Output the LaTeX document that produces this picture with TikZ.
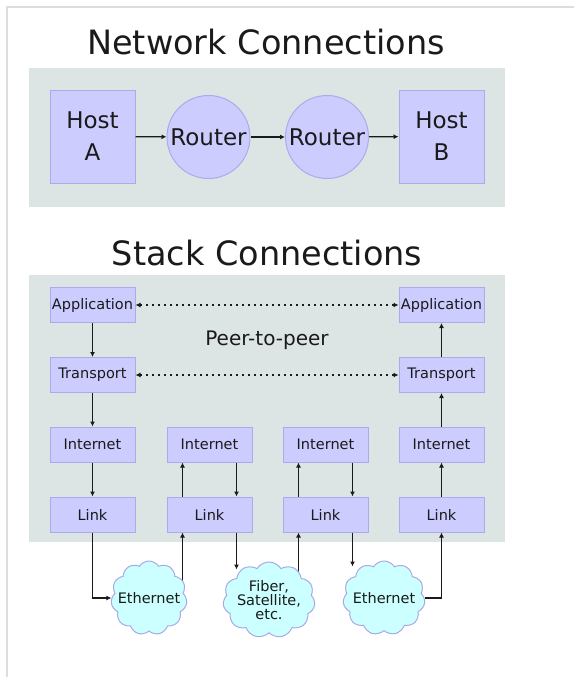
\documentclass[tikz,border=0pt]{standalone}
\usepackage{fontspec}
\setmainfont{DejaVu Sans}
\usetikzlibrary{arrows.meta,positioning,calc,shapes.symbols}
\definecolor{panelgray}{HTML}{DCE4E4}
\definecolor{boxfill}{HTML}{CCCCFF}
\definecolor{boxline}{HTML}{ABABEC}
\definecolor{cloudfill}{HTML}{CCFFFF}
\definecolor{cloudline}{HTML}{A9A9E6}
\definecolor{ink}{HTML}{1A1A1A}
\definecolor{framegray}{HTML}{DDDDDD}
\pgfdeclarelayer{back}
\pgfdeclarelayer{mid}
\pgfsetlayers{back,mid,main}
\tikzset{
  panel/.style={fill=panelgray,draw=none},
  hostbox/.style={draw=boxline,fill=boxfill,line width=1pt,
                  minimum width=85pt,minimum height=93pt,inner sep=0pt,
                  align=center,text=ink,font=\fontsize{23}{32}\selectfont},
  routernode/.style={circle,draw=boxline,fill=boxfill,line width=1pt,
                     minimum size=83pt,inner sep=0pt,text=ink,
                     font=\fontsize{23}{28}\selectfont},
  layerbox/.style={draw=boxline,fill=boxfill,line width=1pt,
                   minimum width=85pt,minimum height=35pt,inner sep=0pt,
                   text=ink,font=\fontsize{14.5}{17}\selectfont},
  netcloud/.style={cloud,cloud puffs=11,cloud puff arc=115,cloud ignores aspect,
                   draw=cloudline,fill=cloudfill,line width=1pt,inner sep=-10pt,
                   align=center,text=ink,font=\fontsize{14.5}{14}\selectfont},
  titletext/.style={anchor=base,text=ink,font=\fontsize{33.5}{40}\selectfont},
  linkarr/.style={-{Latex[length=5pt,width=5pt]},line width=1.3pt,color=ink},
  peerarr/.style={{Latex[length=5pt,width=5pt]}-{Latex[length=5pt,width=5pt]},
                  line width=1.3pt,dash pattern=on 1.5pt off 4.5pt,color=ink}
}

\begin{document}
\begin{tikzpicture}[x=1pt,y=-1pt]
  \useasboundingbox (0,0) rectangle (574,677);
  \begin{pgfonlayer}{back}
    \fill[white] (0,0) rectangle (574,677);
    \draw[framegray,line width=2pt] (7,677) -- (7,7) -- (574,7);
  \end{pgfonlayer}

  % network connections
  \node[titletext] (nettitle) at (266,55) {Network Connections};
  \begin{pgfonlayer}{back}
    \fill[panel] (29,68) rectangle (505,207);
  \end{pgfonlayer}
  \node[hostbox] (hostA) at (92.5,136.5) {Host\\A};
  \node[routernode] (rtr1) at (208.5,137) {Router};
  \node[routernode] (rtr2) at (327,137) {Router};
  \node[hostbox] (hostB) at (441.5,136.5) {Host\\B};
  \draw[linkarr] (hostA) -- (rtr1);
  \draw[linkarr] (rtr1) -- (rtr2);
  \draw[linkarr] (rtr2) -- (hostB);

  % stack connections
  \node[titletext] (stacktitle) at (267,265) {Stack Connections};
  \begin{pgfonlayer}{back}
    \fill[panel] (29,275) rectangle (505,542);
  \end{pgfonlayer}
  \node[layerbox] (app1) at (92.5,305) {Application};
  \node[layerbox] (trans1) at (92.5,375) {Transport};
  \node[layerbox] (app4) at (441.5,305) {Application};
  \node[layerbox] (trans4) at (441.5,375) {Transport};
  \foreach \c/\x in {1/92.5,2/209.5,3/325.5,4/441.5} {
    \node[layerbox] (inet\c) at (\x,444.5) {Internet};
    \node[layerbox] (link\c) at (\x,514.5) {Link};
  }
  \node[anchor=base,text=ink,font=\fontsize{20}{24}\selectfont] (peerlbl) at (267,345) {Peer-to-peer};

  \draw[peerarr] (app1) -- (app4);
  \draw[peerarr] (trans1) -- (trans4);
  \draw[linkarr] (app1) -- (trans1);
  \draw[linkarr] (trans1) -- (inet1);
  \draw[linkarr] (inet1) -- (link1);
  \draw[linkarr] (link4) -- (inet4);
  \draw[linkarr] (inet4) -- (trans4);
  \draw[linkarr] (trans4) -- (app4);
  \foreach \c in {2,3} {
    \draw[linkarr] ([xshift=-27pt]link\c.north) -- ([xshift=-27pt]inet\c.south);
    \draw[linkarr] ([xshift=27pt]inet\c.south) -- ([xshift=27pt]link\c.north);
  }

  % physical media
  \node[netcloud,minimum width=76pt,minimum height=74pt] (eth1) at (149,598) {Ethernet};
  \node[netcloud,minimum width=92pt,minimum height=76pt] (fiber) at (269,600) {Fiber,\\Satellite,\\etc.};
  \node[netcloud,minimum width=82pt,minimum height=74pt] (eth3) at (384,598) {Ethernet};

  \coordinate (up2) at ([xshift=-27pt]link2.south);
  \coordinate (dn2) at ([xshift=27pt]link2.south);
  \coordinate (up3) at ([xshift=-27pt]link3.south);
  \coordinate (dn3) at ([xshift=27pt]link3.south);

  \draw[linkarr] (link1) |- (eth1);
  \draw[linkarr] (dn2) -- ($(dn2 |- fiber.north)+(0,8)$);
  \draw[linkarr] (dn3) -- ($(dn3 |- eth3.north)+(0,6)$);
  \draw[linkarr] (eth3) -| (link4);
  \begin{pgfonlayer}{mid}
    \draw[linkarr] (up2 |- eth1.center) -- (up2);
    \draw[linkarr] (up3 |- fiber.center) -- (up3);
  \end{pgfonlayer}
\end{tikzpicture}
\end{document}
